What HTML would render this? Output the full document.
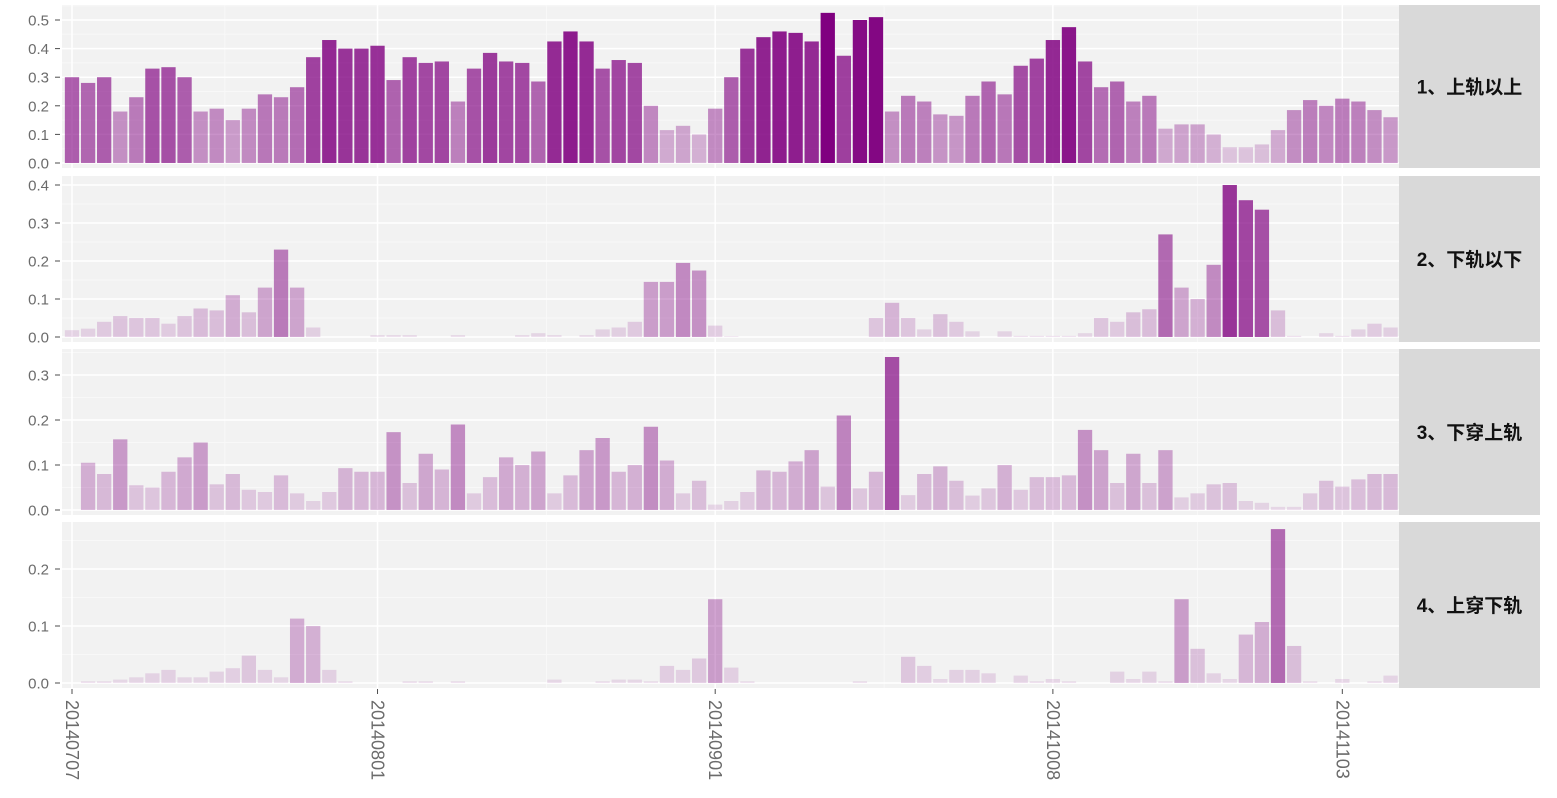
<!DOCTYPE html>
<html><head><meta charset="utf-8"><style>
html,body{margin:0;padding:0;background:#fff;}
svg{display:block;font-family:"Liberation Sans","Noto Sans CJK SC",sans-serif;}
</style></head><body>
<svg id="chart" width="1557" height="798"></svg>
<script>
const tickLabels = ["20140707","20140801","20140901","20141008","20141103"];
const tickIndex = [0,19,40,61,79];
const facetLabels = ["1、上轨以上","2、下轨以下","3、下穿上轨","4、上穿下轨"];
const p1Values = [0.30,0.28,0.30,0.18,0.23,0.33,0.335,0.30,0.18,0.19,0.15,0.19,0.24,0.23,0.265,0.37,0.43,0.40,0.40,0.41,0.29,0.37,0.35,0.355,0.215,0.33,0.385,0.355,0.35,0.285,0.425,0.46,0.425,0.33,0.36,0.35,0.20,0.115,0.13,0.10,0.19,0.30,0.40,0.44,0.46,0.455,0.425,0.525,0.375,0.50,0.51,0.18,0.235,0.215,0.17,0.165,0.235,0.285,0.24,0.34,0.365,0.43,0.475,0.355,0.265,0.285,0.215,0.235,0.12,0.135,0.135,0.10,0.055,0.055,0.065,0.115,0.185,0.22,0.20,0.225,0.215,0.185,0.16];
const p2Values = [0.018,0.022,0.04,0.055,0.05,0.05,0.035,0.055,0.075,0.07,0.11,0.065,0.13,0.23,0.13,0.025,0,0,0,0.005,0.005,0.005,0,0,0.005,0,0,0,0.005,0.01,0.005,0,0.005,0.02,0.025,0.04,0.145,0.145,0.195,0.175,0.03,0.002,0,0,0,0,0,0,0,0,0.05,0.09,0.05,0.02,0.06,0.04,0.015,0,0.015,0.003,0.003,0.003,0.003,0.01,0.05,0.04,0.065,0.073,0.27,0.13,0.10,0.19,0.40,0.36,0.335,0.07,0.003,0,0.01,0.003,0.02,0.035,0.025];
const p3Values = [0,0.105,0.08,0.157,0.055,0.05,0.085,0.117,0.15,0.057,0.08,0.045,0.04,0.077,0.037,0.02,0.04,0.093,0.085,0.085,0.173,0.06,0.125,0.09,0.19,0.037,0.073,0.117,0.1,0.13,0.037,0.077,0.133,0.16,0.085,0.1,0.185,0.11,0.037,0.065,0.012,0.02,0.04,0.088,0.085,0.108,0.133,0.052,0.21,0.048,0.085,0.34,0.033,0.08,0.097,0.065,0.032,0.048,0.1,0.045,0.073,0.073,0.077,0.178,0.133,0.06,0.125,0.06,0.133,0.028,0.037,0.057,0.06,0.02,0.016,0.007,0.007,0.037,0.065,0.052,0.068,0.08,0.08];
const p4Values = [0,0.003,0.003,0.006,0.01,0.017,0.023,0.01,0.01,0.02,0.026,0.048,0.023,0.01,0.113,0.1,0.023,0.003,0,0,0,0.003,0.003,0,0.003,0,0,0,0,0,0.006,0,0,0.003,0.006,0.006,0.003,0.03,0.023,0.043,0.147,0.027,0.003,0,0,0,0,0,0,0.003,0,0,0.046,0.03,0.007,0.023,0.023,0.017,0,0.013,0.003,0.007,0.003,0,0,0.02,0.007,0.02,0.003,0.147,0.06,0.017,0.007,0.085,0.107,0.27,0.065,0.003,0,0.007,0,0.003,0.013];
const p1Ticks = [0,0.1,0.2,0.3,0.4,0.5];
const p2Ticks = [0,0.1,0.2,0.3,0.4];
const p3Ticks = [0,0.1,0.2,0.3];
const p4Ticks = [0,0.1,0.2];

const NS = "http://www.w3.org/2000/svg";
const svg = document.getElementById("chart");
function mk(tag, attrs, parent){ const e=document.createElementNS(NS,tag); for(const k in attrs) e.setAttribute(k,attrs[k]); (parent||svg).appendChild(e); return e; }

const panelLeft = 62, panelRight = 1399, stripRight = 1540;
const xStep = 16.08, x0 = 72, barW = 14.3;
function xScale(i){ return x0 + xStep*i; }

const panels = [
  {vals:p1Values, ticks:p1Ticks, top:5, bottom:168, zero:163, per:286},
  {vals:p2Values, ticks:p2Ticks, top:176, bottom:342, zero:337, per:380},
  {vals:p3Values, ticks:p3Ticks, top:349, bottom:515, zero:510, per:450},
  {vals:p4Values, ticks:p4Ticks, top:522, bottom:688, zero:683, per:570}
];
let gmax = 0;
panels.forEach(p=>p.vals.forEach(v=>{ if(v>gmax) gmax=v; }));

panels.forEach((p,pi)=>{
  const yScale = v => p.zero - v*p.per;
  const g = mk("g",{});
  
  
  const bg = mk("rect",{x:panelLeft,y:p.top,width:panelRight-panelLeft,height:p.bottom-p.top,fill:"#f2f2f2"},g);
  
  
  for(let k=0;k<p.ticks.length;k++){
    const ym = yScale(p.ticks[k]+0.05);
    if(ym>p.top) mk("line",{x1:panelLeft,x2:panelRight,y1:ym,y2:ym,stroke:"#f8f8f8","stroke-width":1},g);
  }
  for(let k=0;k<tickIndex.length-1;k++){
    const xm=(xScale(tickIndex[k])+xScale(tickIndex[k+1]))/2;
    mk("line",{x1:xm,x2:xm,y1:p.top,y2:p.bottom,stroke:"#f8f8f8","stroke-width":1},g);
  }
  p.ticks.forEach(t=>{
    const y=yScale(t);
    const gl = mk("line",{x1:panelLeft,x2:panelRight,y1:y,y2:y,stroke:"#ffffff","stroke-width":1.5},g);
    
    
    mk("line",{x1:55,x2:60,y1:y,y2:y,stroke:"#4d4d4d","stroke-width":1},g);
    const tl = mk("text",{x:49,y:y+5.5,"text-anchor":"end","font-size":15,fill:"#6b6b6b"},g);
    tl.textContent = t.toFixed(1);
    
    
  });
  tickIndex.forEach(ti=>{
    const x=xScale(ti);
    const vg = mk("line",{x1:x,x2:x,y1:p.top,y2:p.bottom,stroke:"#ffffff","stroke-width":1.5},g);
    
    
  });
  p.vals.forEach((v,i)=>{
    if(v<=0) return;
    const a = 0.1 + 0.9*v/gmax;
    const r = mk("rect",{x:xScale(i)-barW/2,y:yScale(v),width:barW,height:v*p.per,fill:"#800080","fill-opacity":a.toFixed(3)},g);
    
    
  });
  const st = mk("rect",{x:panelRight,y:p.top,width:stripRight-panelRight,height:p.bottom-p.top,fill:"#d9d9d9"},g);
  
  
  const sl = mk("text",{x:(panelRight+stripRight)/2,y:(p.top+p.bottom)/2+7,"text-anchor":"middle","font-size":19,"font-weight":"bold",fill:"#111"},g);
  sl.textContent = facetLabels[pi];
  
  
});

tickIndex.forEach((ti,k)=>{
  const x=xScale(ti);
  mk("line",{x1:x,x2:x,y1:689,y2:694,stroke:"#4d4d4d","stroke-width":1});
  const t = mk("text",{x:0,y:0,"font-size":18,fill:"#6b6b6b",transform:`translate(${x-6},700) rotate(90)`});
  t.textContent = tickLabels[k];
  
  
});
</script>
</body></html>
